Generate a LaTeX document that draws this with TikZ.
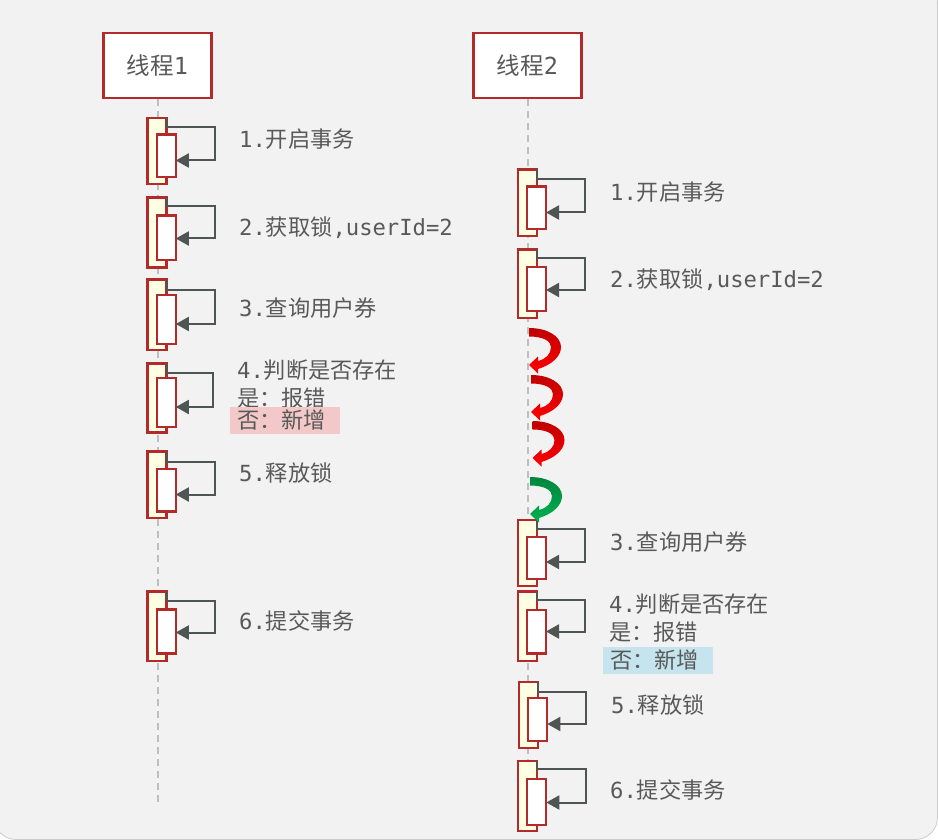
\documentclass[tikz,border=0pt]{standalone}
\usepackage{fontspec}
\newfontfamily\cjk{Noto Sans CJK SC}
\newfontfamily\mono{DejaVu Sans Mono}
\usetikzlibrary{arrows.meta}
\definecolor{bggray}{HTML}{F2F2F2}
\definecolor{boxred}{HTML}{B22A2A}
\definecolor{actfill}{HTML}{FFFFE3}
\definecolor{loopgray}{HTML}{4D5555}
\definecolor{txtgray}{HTML}{595959}
\definecolor{lifegray}{HTML}{BFBFBF}
\definecolor{hlpink}{HTML}{F2C8C8}
\definecolor{hlblue}{HTML}{C6E4EE}
\definecolor{curlredtop}{HTML}{C00000}
\definecolor{curlredbot}{HTML}{FF0000}
\definecolor{curlgreentop}{HTML}{00863C}
\definecolor{curlgreenbot}{HTML}{00B050}
\newcommand\mtxt[1]{{\mono #1}}
\newcommand\ctxt[1]{{\cjk #1}}
\tikzset{
  header/.style={draw=boxred, line width=2.4pt, fill=white, minimum width=108pt, minimum height=65pt, inner sep=0pt, text=txtgray, font=\fontsize{23.5}{27}\selectfont},
  actouter/.style={draw=boxred, line width=2.2pt, fill=actfill, minimum width=19pt, inner sep=0pt, outer sep=0pt},
  actinner/.style={draw=boxred, line width=2.2pt, fill=white, minimum width=19pt, inner sep=0pt, outer sep=0pt},
  selfloop/.style={draw=loopgray, line width=2pt, -{Triangle[length=13pt,width=14pt]}},
  lifeline/.style={draw=lifegray, line width=2pt, dash pattern=on 7pt off 5pt},
  labeltext/.style={anchor=west, inner sep=0pt, text=txtgray, font=\fontsize{22.2}{26}\selectfont},
  hlbox/.style={anchor=west, inner xsep=7pt, inner ysep=0pt, minimum height=27.5pt, text width=96pt, align=left, text=txtgray, font=\fontsize{22.2}{26}\selectfont}
}
\newcommand\actg[9]{%
  \node[actouter, minimum height={#4-#3}, anchor=north west] (#1o) at (#2,#3) {};
  \node[actinner, minimum height={#6-#5}, anchor=north west] (#1i) at ({#2+9.3},#5) {};
  \draw[selfloop] (#1o.north east) -- (#1o.north east |- 0,#7) -| (#9,#8) -- (#1i.east |- 0,#8);
}
\newcommand\curl[4]{%
  \begin{scope}[shift={(#1,#2)}]
    \shade[top color=#3, bottom color=#4]
      (0,0) .. controls (18,0) and (32,8) .. (32,19)
      .. controls (32,29) and (22,37) .. (9,41)
      -- (9,45.5) -- (0,37) -- (9,28.5) -- (9,33)
      .. controls (17,31) and (22,26) .. (22,19)
      .. controls (22,13) and (14,8.5) .. (0,8.5) -- cycle;
  \end{scope}
}
\begin{document}
\begin{tikzpicture}[x=1pt,y=-1pt]
\useasboundingbox (0,0) rectangle (938,840);
\fill[white] (0,0) rectangle (938,840);
\fill[bggray, draw=black!20, line width=0.8pt, rounded corners=22pt] (-6,-20) rectangle (937.5,839.5);

% headers
\node[header] (h1) at (157.5,65.5) {\ctxt{线程}\mtxt{1}};
\node[header] (h2) at (527.5,65.5) {\ctxt{线程}\mtxt{2}};
\coordinate (e1) at (157.5,805);
\coordinate (e2) at (527.5,830);
\draw[lifeline] (h1.south) -- (e1);
\draw[lifeline] (h2.south) -- (e2);

% thread 1
\actg{a1}{147.5}{118}{184}{134.5}{177}{127}{160.5}{215}
\actg{a2}{147.5}{197.5}{267.5}{215.5}{260}{206}{238.5}{215}
\actg{a3}{147.5}{279.5}{350}{295}{344}{289.5}{324}{215}
\actg{a4}{147.5}{363.5}{432.5}{378}{427}{372.5}{407}{213}
\actg{a5}{147.5}{451.5}{518}{469}{511.5}{461.5}{494.5}{215}
\actg{a6}{147.5}{591.5}{661}{609.5}{653.5}{600.5}{632.5}{215}

\node[labeltext] (l1) at (239,139) {\mtxt{1.}\ctxt{开启事务}};
\node[labeltext] (l2) at (239,228) {\mtxt{2.}\ctxt{获取锁}\mtxt{,userId=2}};
\node[labeltext] (l3) at (239,308) {\mtxt{3.}\ctxt{查询用户券}};
\node[labeltext] (l4a) at (237,370) {\mtxt{4.}\ctxt{判断是否存在}};
\node[labeltext] (l4b) at (237,398) {\ctxt{是：报错}};
\node[hlbox, fill=hlpink] (l4c) at (230,420.5) {\ctxt{否：新增}};
\node[labeltext] (l5) at (239,473) {\mtxt{5.}\ctxt{释放锁}};
\node[labeltext] (l6) at (239,621) {\mtxt{6.}\ctxt{提交事务}};

% thread 2
\actg{b1}{517.7}{169.5}{236}{186.5}{229}{179.5}{212.5}{585}
\actg{b2}{517.7}{249.5}{318}{267}{311}{258}{290}{585}
\actg{b3}{517.7}{520}{586}{537}{579}{529}{562}{585}
\actg{b4}{517.7}{591.5}{661}{610}{653.5}{599.5}{631.5}{585}
\actg{b5}{519}{682}{748}{698}{741}{691.5}{724}{586}
\actg{b6}{518}{761}{831}{779}{825}{769}{802.5}{586}

\node[labeltext] (m1) at (610,192) {\mtxt{1.}\ctxt{开启事务}};
\node[labeltext] (m2) at (610,280) {\mtxt{2.}\ctxt{获取锁}\mtxt{,userId=2}};
\node[labeltext] (m3) at (610,542) {\mtxt{3.}\ctxt{查询用户券}};
\node[labeltext] (m4a) at (609,604) {\mtxt{4.}\ctxt{判断是否存在}};
\node[labeltext] (m4b) at (609,632) {\ctxt{是：报错}};
\node[hlbox, fill=hlblue] (m4c) at (603,660.5) {\ctxt{否：新增}};
\node[labeltext] (m5) at (611,705) {\mtxt{5.}\ctxt{释放锁}};
\node[labeltext] (m6) at (610,790) {\mtxt{6.}\ctxt{提交事务}};

% waiting curls
\curl{529}{328}{curlredtop}{curlredbot}
\curl{531}{375}{curlredtop}{curlredbot}
\curl{532.5}{421}{curlredtop}{curlredbot}
\curl{530}{477}{curlgreentop}{curlgreenbot}
\end{tikzpicture}
\end{document}
